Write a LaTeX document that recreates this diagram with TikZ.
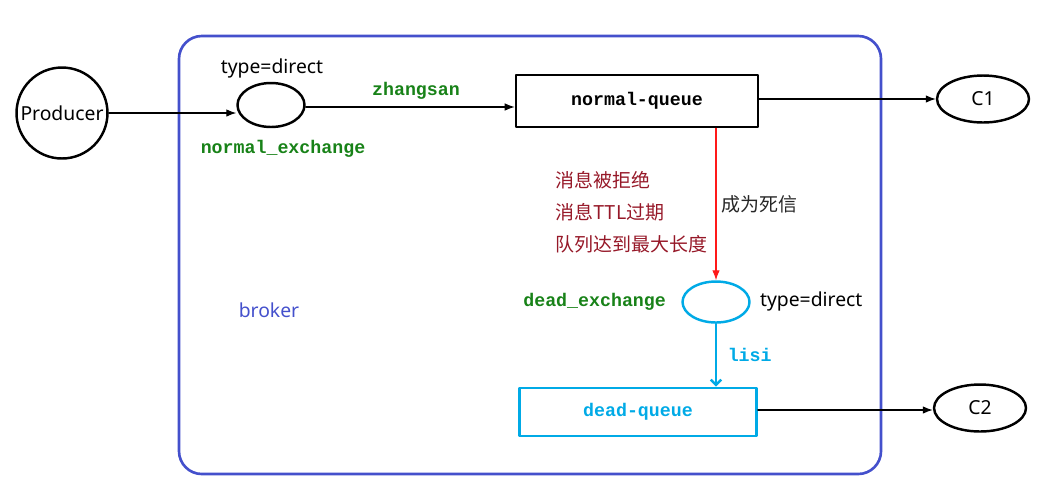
\documentclass[tikz,border=0pt]{standalone}
\usepackage{fontspec}
\setmainfont{Noto Sans}
\setmonofont{Liberation Mono}
\newfontfamily\cjk{Noto Sans CJK SC}
\usetikzlibrary{arrows.meta}
\usetikzlibrary{positioning}
\usetikzlibrary{shapes.geometric}

\begin{document}
\begin{tikzpicture}[x=0.02cm, y=-0.02cm, >=Latex, line cap=round, line join=round]
			
			% Colors
			\definecolor{brokerB}{RGB}{68,80,204}
			\definecolor{keyG}{RGB}{24,130,24}
			\definecolor{deadB}{RGB}{0,170,230}
			\definecolor{reasonR}{RGB}{150,24,40}
			
			\tikzset{
				lab/.style={font=\fontsize{11}{13}\selectfont, inner sep=1pt},
				key/.style={font=\fontsize{10.4}{12}\selectfont\ttfamily\bfseries, inner sep=1pt},
				exch/.style={ellipse, draw, line width=1.4pt, minimum width=1.34cm, minimum height=0.88cm, inner sep=0pt},
				queuebox/.style={rectangle, draw, line width=1.5pt, minimum width=4.84cm, minimum height=1.04cm, font=\fontsize{10.4}{12}\selectfont\ttfamily\bfseries},
				consumer/.style={ellipse, draw, line width=1.4pt, minimum width=1.84cm, minimum height=0.94cm, inner sep=0pt, font=\fontsize{11}{13}\selectfont},
				arrowK/.style={->, semithick},
			}
			
			\useasboundingbox (0,0) rectangle (1061,488);
			
			% --- broker frame
			\draw[draw=brokerB, line width=1.5pt, rounded corners=13pt] (179,36) rectangle (881,474);
			\node[lab, text=brokerB] (broker) at (269,310) {broker};
			
			% --- producer side
			\node[circle, draw, line width=1.4pt, minimum size=1.82cm, inner sep=0pt, font=\fontsize{11}{13}\selectfont] (prod) at (62,113) {Producer};
			\node[exch] (nex) at (271,105) {};
			\node[lab] (ntype) at (272,68) {type=direct};
			\node[key, text=keyG] (nexlab) at (283,149) {normal\_exchange};
			
			\node[queuebox] (nq) at (637,101) {normal-queue};
			\node[consumer] (c1) at (983,99) {C1};
			
			\draw[arrowK] (prod.east) -- (prod.east -| nex.west);
			\draw[arrowK] (nex.east) ++(0,2) coordinate (nexout) -- (nexout -| nq.west);
			\node[key, text=keyG] (rk1) at (416,91) {zhangsan};
			\draw[arrowK] (nq.east) ++(0,-2) coordinate (nqout) -- (nqout -| c1.west);
			
			% --- dead letter path
			\node[exch, draw=deadB, minimum height=0.82cm] (dex) at (716,302) {};
			\node[key, text=keyG, anchor=east] (dexlab) at (668,302) {dead\_exchange};
			\node[lab, anchor=west] (dtype) at (758,301) {type=direct};
			
			\node[anchor=north west, align=left, text=reasonR, inner sep=0pt, font=\cjk\fontsize{10.8}{18.2}\selectfont] (why) at (555,171) {%
				消息被拒绝\\
				消息TTL过期\\
				队列达到最大长度};
			
			\draw[->, red!90, semithick] (nq.south -| dex.north) -- node[right, inner sep=3pt, text=black!85, font=\cjk\fontsize{10.8}{13}\selectfont] {成为死信} (dex.north);
			
			\node[queuebox, draw=deadB, text=deadB, minimum width=4.74cm, minimum height=0.96cm] (dq) at (638,412) {dead-queue};
			\node[consumer] (c2) at (980,408) {C2};
			
			\draw[-{Straight Barb[length=3pt, width=6pt]}, draw=deadB, line width=1.4pt] (dex.south) -- node[key, text=deadB, right, inner sep=6pt] {lisi} (dex.south |- dq.north);
			\draw[arrowK] (dq.east) ++(0,-2) coordinate (dqout) -- (dqout -| c2.west);
			
		\end{tikzpicture}
\end{document}
